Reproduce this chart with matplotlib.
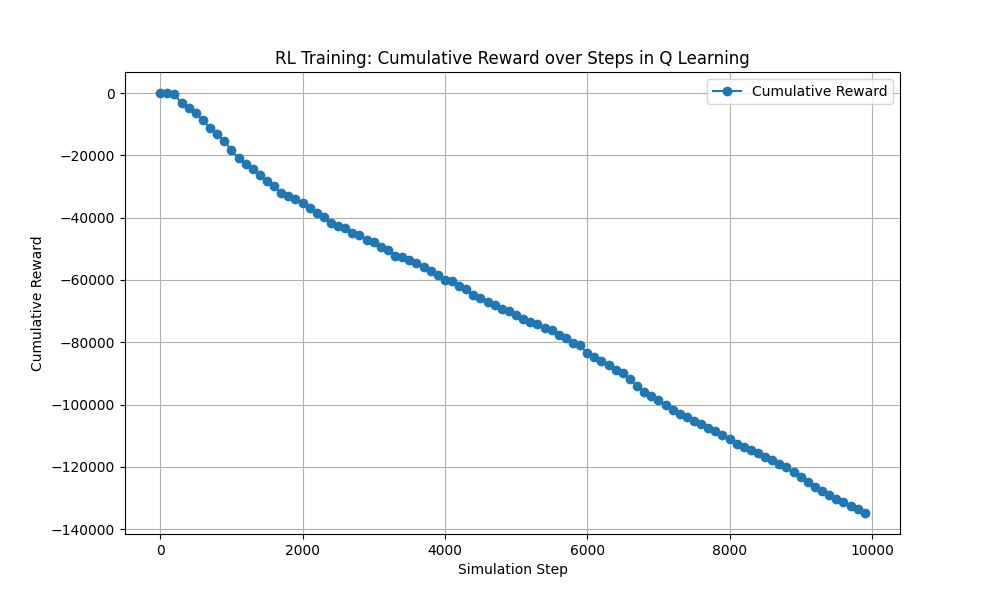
import numpy as np
from matplotlib import pyplot as plt

# Simulation steps: 0, 100, ..., 9900
steps = list(range(0, 10000, 100))

# Cumulative reward
cumulative_reward = [
    0, 0, -400, -3300, -4900, -6500, -8700, -11300, -13200, -15400,
    -18400, -21000, -22800, -24500, -26400, -28300, -29900, -32200, -33100, -34000,
    -35400, -37000, -38400, -39900, -41600, -42700, -43200, -45000, -45600, -47200,
    -47800, -49400, -50500, -52200, -52700, -53500, -54600, -56000, -57200, -58400,
    -60000, -60400, -61800, -63000, -64700, -65900, -67100, -68100, -69300, -70000,
    -71300, -72400, -73400, -74200, -75400, -76100, -77700, -78500, -80100, -80900,
    -83600, -84700, -86100, -87300, -89000, -90000, -91800, -94100, -95900, -97300,
    -98600, -100200, -101800, -102900, -104100, -105300, -106300, -107500, -108500, -109900,
    -111200, -112500, -113600, -114600, -115400, -116800, -117900, -119100, -120000, -121600,
    -123200, -124800, -126400, -127700, -129100, -130400, -131400, -132600, -133500, -134800,
]

fig, ax = plt.subplots(figsize=(10, 6), dpi=100)
ax.plot(steps, cumulative_reward, marker="o", label="Cumulative Reward")
ax.set_title("RL Training: Cumulative Reward over Steps in Q Learning")
ax.set_xlabel("Simulation Step")
ax.set_ylabel("Cumulative Reward")
ax.grid(True)
ax.legend(loc="upper right")

fig.savefig("out.png")
